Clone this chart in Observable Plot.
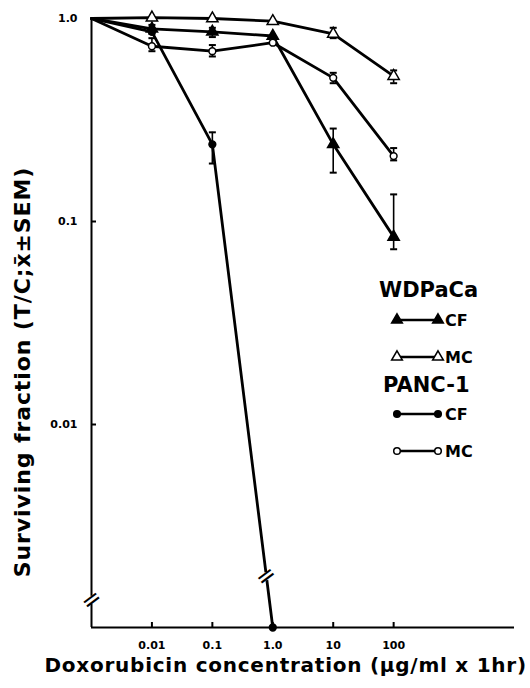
<!DOCTYPE html>
<html><head><meta charset="utf-8">
<script src="https://cdn.jsdelivr.net/npm/d3@7"></script>
<script src="https://cdn.jsdelivr.net/npm/@observablehq/plot@0.6"></script>
<style>body{margin:0;background:#fff;} #chart svg{display:block}</style>
</head><body><div id="chart"></div>
<script>
// ---- data ----
const concentrations = [0.001, 0.01, 0.1, 1, 10, 100]; // 0.001 = untreated control at the axis origin
const xTicks = [0.01, 0.1, 1, 10, 100];
const xTickLabels = ["0.01", "0.1", "1.0", "10", "100"];
const yTicks = [1, 0.1, 0.01];
const yTickLabels = ["1.0", "0.1", "0.01"];

const wdpacaCF   = [1, 0.89, 0.86, 0.82, 0.24, 0.084];
const wdpacaCFLo = [null, 0.84, 0.81, null, 0.174, 0.073];
const wdpacaCFHi = [null, 0.93, 0.90, null, 0.287, 0.136];

const wdpacaMC   = [1, 1.01, 1.0, 0.97, 0.84, 0.52];
const wdpacaMCLo = [null, null, null, null, 0.80, 0.48];
const wdpacaMCHi = [null, null, null, null, 0.90, 0.555];

const panc1CF    = [1, 0.86, 0.24, 0.001, null, null]; // 1.0 µg/ml: below 0.001 (axis break)
const panc1CFLo  = [null, null, 0.193, null, null, null];
const panc1CFHi  = [null, null, 0.275, null, null, null];

const panc1MC    = [1, 0.73, 0.69, 0.76, 0.51, 0.21];
const panc1MCLo  = [null, 0.69, 0.65, null, 0.48, 0.20];
const panc1MCHi  = [null, 0.80, 0.74, null, 0.54, 0.23];

const legendTitles = ["WDPaCa", "PANC-1"];
const legendLabels = ["CF", "MC"];
const xTitle = "Doxorubicin concentration (\u00b5g/ml x 1hr)";
const yTitle = "Surviving fraction (T/C;x\u0304\u00b1SEM)";
const breakMarks = [{x: 0.001, y: 0.00137}, {x: 0.77, y: 0.00179}];

// ---- build tables ----
const series = [
  {name: "WDPaCa CF", v: wdpacaCF, lo: wdpacaCFLo, hi: wdpacaCFHi, symbol: "triangle", fill: "black"},
  {name: "WDPaCa MC", v: wdpacaMC, lo: wdpacaMCLo, hi: wdpacaMCHi, symbol: "triangle", fill: "white"},
  {name: "PANC-1 CF", v: panc1CF, lo: panc1CFLo, hi: panc1CFHi, symbol: "circle", fill: "black"},
  {name: "PANC-1 MC", v: panc1MC, lo: panc1MCLo, hi: panc1MCHi, symbol: "circle", fill: "white"}
];
const rows = [];
for (const s of series) concentrations.forEach((c, i) => {
  if (s.v[i] != null) rows.push({series: s.name, conc: c, value: s.v[i], lo: s.lo[i], hi: s.hi[i], symbol: s.symbol, fill: s.fill});
});
const markers = rows.filter(d => d.conc > 0.001);
const errs = rows.filter(d => d.lo != null);
const caps = errs.flatMap(d => [{conc: d.conc, y: d.lo}, {conc: d.conc, y: d.hi}]);

const FONT = "DejaVu Sans";
const capSymbol = {draw(ctx, size) { const h = Math.sqrt(size / Math.PI); ctx.moveTo(-h, 0); ctx.lineTo(h, 0); }};

const W = 530, H = 688, mL = 91, mR = 16, mT = 18, mB = 61;
const frameW = W - mL - mR, frameH = H - mT - mB;

const svg = Plot.plot({
  width: W, height: H,
  marginLeft: mL, marginRight: mR, marginTop: mT, marginBottom: mB,
  style: {fontFamily: FONT, fontWeight: "bold", color: "black", background: "white"},
  x: {type: "log", domain: [0.001, 10000]},
  y: {type: "log", domain: [0.001, 1]},
  marks: [
    Plot.ruleX([0.001], {strokeWidth: 2}),
    Plot.ruleY([0.001], {strokeWidth: 2}),
    Plot.tickX(xTicks, {x: d => d, insetTop: frameH - 5, strokeWidth: 2}),
    Plot.tickY(yTicks.slice(1), {y: d => d, insetRight: frameW - 5, strokeWidth: 2}),
    Plot.axisX({ticks: xTicks, tickFormat: d => xTickLabels[xTicks.indexOf(d)], tickSize: 0, tickPadding: 14, fontSize: 11, fontWeight: "bold", label: null}),
    Plot.axisY({ticks: yTicks, tickFormat: d => yTickLabels[yTicks.indexOf(d)], tickSize: 0, tickPadding: 14, fontSize: 11, fontWeight: "bold", label: null}),
    Plot.line(rows, {x: "conc", y: "value", z: "series", stroke: "black", strokeWidth: 2.8}),
    Plot.ruleX(errs, {x: "conc", y1: "lo", y2: "hi", strokeWidth: 1.6}),
    Plot.dot(caps, {x: "conc", y: "y", symbol: capSymbol, r: 3.5, stroke: "black", strokeWidth: 2, fill: "none"}),
    Plot.dot(markers.filter(d => d.symbol === "triangle"), {x: "conc", y: "value", symbol: "triangle", r: 4.2, fill: d => d.fill, stroke: "black", strokeWidth: 1.5}),
    Plot.dot(markers.filter(d => d.symbol === "circle"), {x: "conc", y: "value", symbol: "circle", r: 3.4, fill: d => d.fill, stroke: "black", strokeWidth: 1.5}),
    Plot.dot(breakMarks, {x: "x", y: "y", r: 4, fill: "white"}),
    Plot.text(breakMarks, {x: "x", y: "y", text: () => "=", rotate: -37, fontSize: 24, fontWeight: "normal", fill: "black"}),
    Plot.text([xTitle], {frameAnchor: "bottom-left", textAnchor: "start", dx: -47, dy: 44, fontSize: 20, fontWeight: "bold", fill: "black"}),
    Plot.text([yTitle], {frameAnchor: "left", textAnchor: "middle", rotate: -90, dx: -69, dy: 49, fontSize: 22, fontWeight: "bold", fill: "black"})
  ]
});

// letter spacing for the wide, heavy titles of the original
d3.select(svg).selectAll("text").filter(function() { return this.textContent === xTitle; }).attr("letter-spacing", 0.75);
d3.select(svg).selectAll("text").filter(function() { return this.textContent === yTitle; }).attr("letter-spacing", 0.9);

// ---- legend (inside the plot area, right side) ----
const g = d3.select(svg).append("g").attr("font-family", FONT).attr("font-weight", "bold").attr("fill", "black").attr("text-anchor", "start");
const legendRows = [
  {title: legendTitles[0], titleX: 379, titleY: 297, items: [
    {label: legendLabels[0], y: 320, symbol: d3.symbolTriangle, fill: "black"},
    {label: legendLabels[1], y: 357, symbol: d3.symbolTriangle, fill: "white"}]},
  {title: legendTitles[1], titleX: 383, titleY: 392, items: [
    {label: legendLabels[0], y: 414, symbol: d3.symbolCircle, fill: "black"},
    {label: legendLabels[1], y: 451, symbol: d3.symbolCircle, fill: "white"}]}
];
for (const grp of legendRows) {
  g.append("text").attr("x", grp.titleX).attr("y", grp.titleY).attr("font-size", 21).text(grp.title);
  for (const it of grp.items) {
    g.append("line").attr("x1", 397).attr("x2", 438).attr("y1", it.y).attr("y2", it.y).attr("stroke", "black").attr("stroke-width", 2.5);
    const sz = it.symbol === d3.symbolTriangle ? 50 : 34;
    for (const cx of [397, 438]) {
      g.append("path").attr("d", d3.symbol(it.symbol, sz)()).attr("transform", `translate(${cx},${it.y})`)
        .attr("fill", it.fill).attr("stroke", "black").attr("stroke-width", 1.5);
    }
    g.append("text").attr("x", 445).attr("y", it.y + 6).attr("font-size", 16).text(it.label);
  }
}

document.getElementById("chart").appendChild(svg);
</script>
</body></html>
